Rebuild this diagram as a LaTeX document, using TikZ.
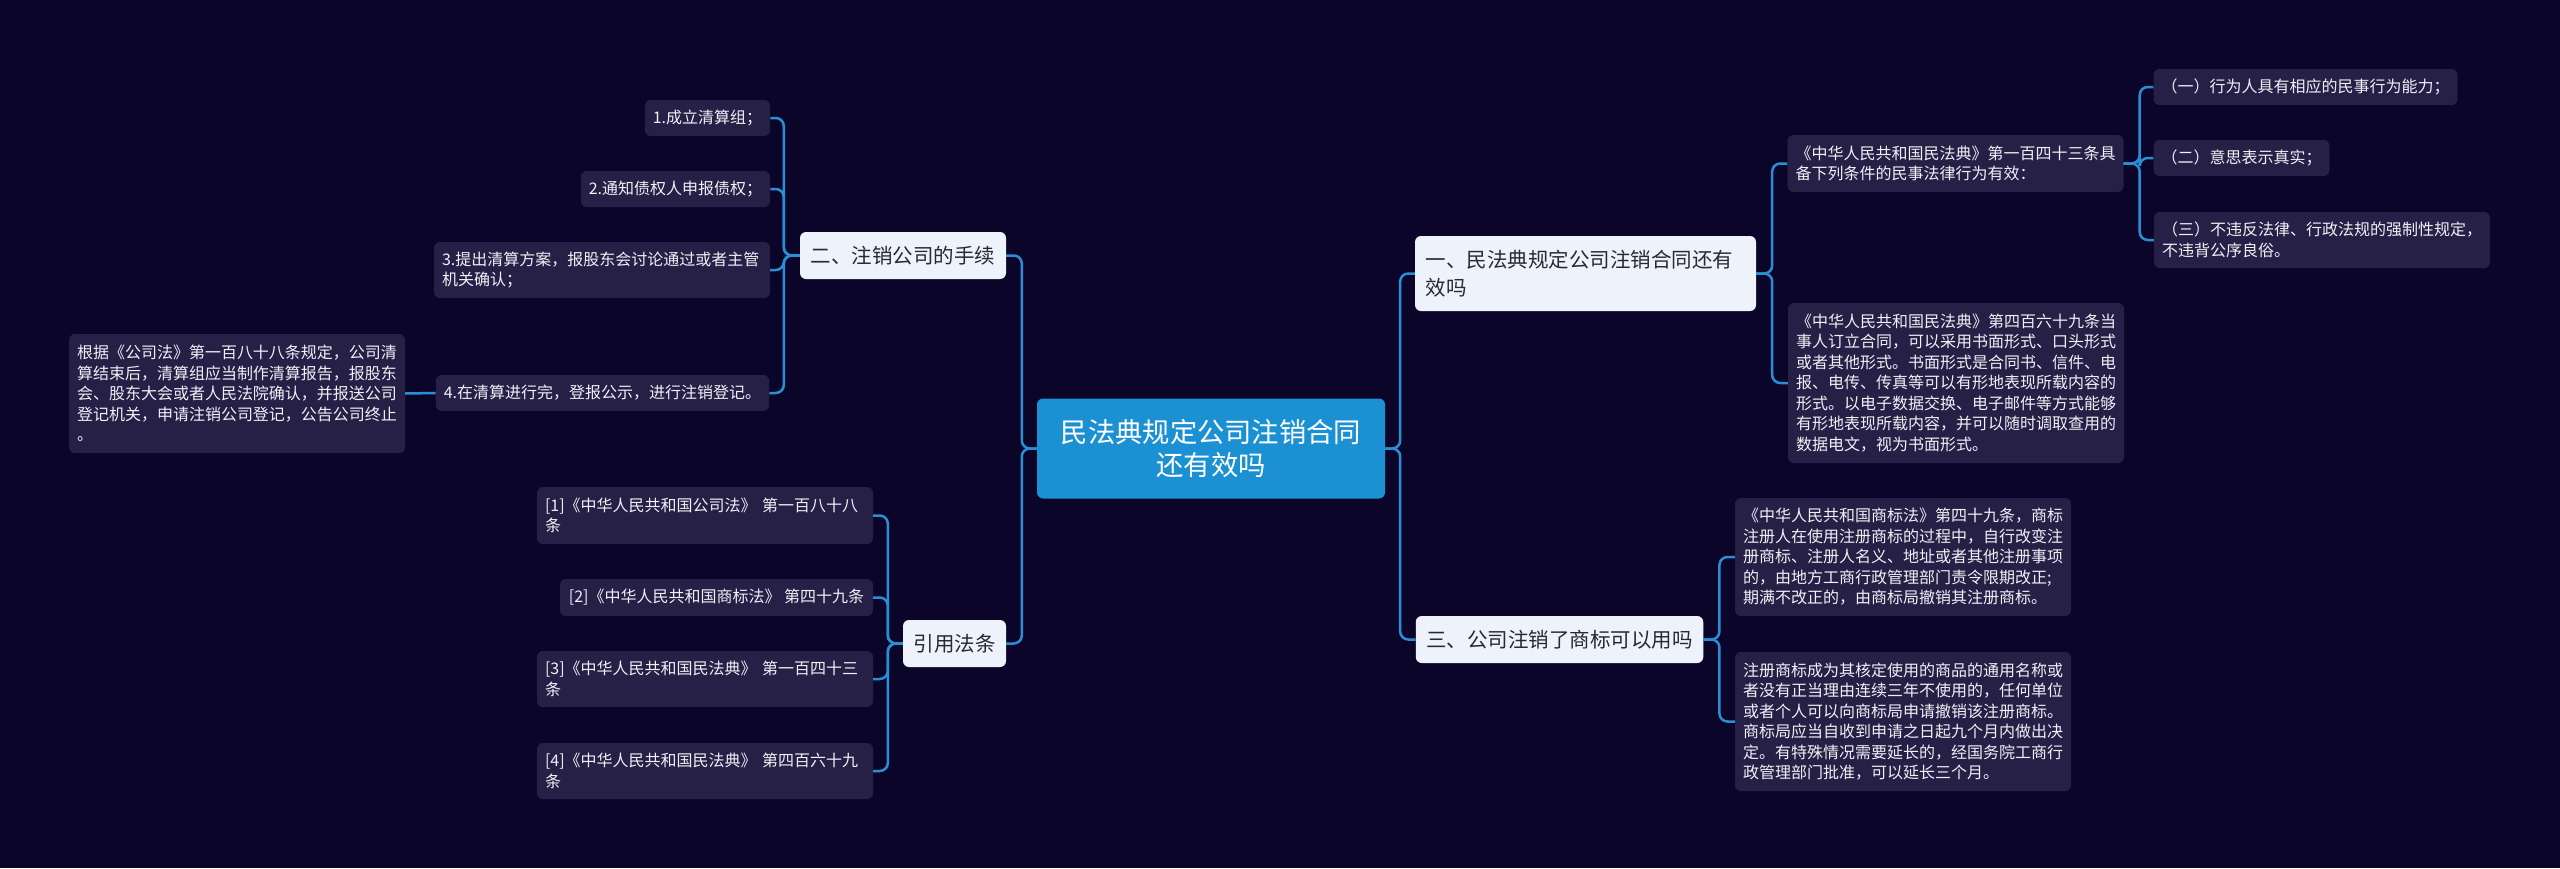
\documentclass[tikz,border=0pt]{standalone}
\usepackage{fontspec}
\setmainfont{Noto Sans CJK SC}
\definecolor{bgc}{RGB}{11,6,41}
\definecolor{cenc}{RGB}{27,145,212}
\definecolor{linec}{RGB}{42,142,214}
\definecolor{brc}{RGB}{238,243,251}
\definecolor{brtext}{RGB}{40,40,55}
\definecolor{leafc}{RGB}{38,32,70}
\definecolor{leaftext}{RGB}{240,240,246}
\tikzset{
  central/.style={fill=cenc, rounded corners=6, text=white, align=center,
    font=\fontsize{27.3}{33}\selectfont, inner sep=4, minimum width=348, minimum height=100},
  branch/.style={fill=brc, rounded corners=6, text=brtext, align=left,
    font=\fontsize{20.5}{28}\selectfont, inner xsep=10.5, inner ysep=4},
  leaf/.style={fill=leafc, rounded corners=6, text=leaftext, align=left,
    font=\fontsize{16}{20.5}\selectfont, inner xsep=8, inner ysep=4},
  wide/.style={text width=320},
  conn/.style={draw=linec, line width=2.5, rounded corners=8}
}
\begin{document}
\begin{tikzpicture}[x=1pt,y=-1pt]
\fill[bgc] (0,0) rectangle (2560,868);
\useasboundingbox (0,0) rectangle (2560,868);

% central
\node[central] (c) at (1211,448.5) {民法典规定公司注销合同\\还有效吗};

% branches
\node[branch, text width=320, minimum height=75] (b1) at (1585.5,273.5) {一、民法典规定公司注销合同还有\\效吗};
\node[branch, minimum width=287, minimum height=47] (b3) at (1559.5,639.5) {三、公司注销了商标可以用吗};
\node[branch, minimum width=206, minimum height=47] (b2) at (903,255.5) {二、注销公司的手续};
\node[branch, minimum width=103, minimum height=47] (b4) at (954.5,643.5) {引用法条};

% leaves of b1
\node[leaf, wide, minimum height=57] (l143) at (1955.5,163.5) {《中华人民共和国民法典》第一百四十三条具\\备下列条件的民事法律行为有效：};
\node[leaf, wide, minimum height=160] (l469) at (1956,383) {《中华人民共和国民法典》第四百六十九条当\\事人订立合同，可以采用书面形式、口头形式\\或者其他形式。书面形式是合同书、信件、电\\报、电传、传真等可以有形地表现所载内容的\\形式。以电子数据交换、电子邮件等方式能够\\有形地表现所载内容，并可以随时调取查用的\\数据电文，视为书面形式。};
\node[leaf, minimum width=303, minimum height=36] (k1) at (2305.5,87) {（一）行为人具有相应的民事行为能力；};
\node[leaf, minimum width=175, minimum height=36] (k2) at (2241.5,158) {（二）意思表示真实；};
\node[leaf, wide, minimum height=56] (k3) at (2322,240) {（三）不违反法律、行政法规的强制性规定，\\不违背公序良俗。};

% leaves of b3
\node[leaf, wide, minimum height=118] (t1) at (1903,557) {《中华人民共和国商标法》第四十九条，商标\\注册人在使用注册商标的过程中，自行改变注\\册商标、注册人名义、地址或者其他注册事项\\的，由地方工商行政管理部门责令限期改正;\\期满不改正的，由商标局撤销其注册商标。};
\node[leaf, wide, minimum height=139] (t2) at (1903,721.5) {注册商标成为其核定使用的商品的通用名称或\\者没有正当理由连续三年不使用的，任何单位\\或者个人可以向商标局申请撤销该注册商标。\\商标局应当自收到申请之日起九个月内做出决\\定。有特殊情况需要延长的，经国务院工商行\\政管理部门批准，可以延长三个月。};

% leaves of b2
\node[leaf, minimum width=125, minimum height=36] (s1) at (707.5,118) {1.成立清算组；};
\node[leaf, minimum width=189, minimum height=36] (s2) at (675.5,189) {2.通知债权人申报债权；};
\node[leaf, wide, minimum height=56] (s3) at (602,270) {3.提出清算方案，报股东会讨论通过或者主管\\机关确认；};
\node[leaf, minimum width=333, minimum height=36] (s4) at (602.5,393) {4.在清算进行完，登报公示，进行注销登记。};
\node[leaf, wide, minimum height=119] (gen) at (237,393.5) {根据《公司法》第一百八十八条规定，公司清\\算结束后，清算组应当制作清算报告，报股东\\会、股东大会或者人民法院确认，并报送公司\\登记机关，申请注销公司登记，公告公司终止\\。};

% leaves of b4
\node[leaf, wide, minimum height=57] (r1) at (705,515.5) {[1]《中华人民共和国公司法》 第一百八十八\\条};
\node[leaf, minimum width=313, minimum height=37] (r2) at (716.5,597.5) {[2]《中华人民共和国商标法》 第四十九条};
\node[leaf, wide, minimum height=56] (r3) at (705,679) {[3]《中华人民共和国民法典》 第一百四十三\\条};
\node[leaf, wide, minimum height=56] (r4) at (705,771) {[4]《中华人民共和国民法典》 第四百六十九\\条};

% connectors
\draw[conn] (c.east) -- ++(15,0) |- (b1.west);
\draw[conn] (c.east) -- ++(15,0) |- (b3.west);
\draw[conn] (c.west) -- ++(-15,0) |- (b2.east);
\draw[conn] (c.west) -- ++(-15,0) |- (b4.east);

\draw[conn] (b1.east) -- ++(16,0) |- (l143.west);
\draw[conn] (b1.east) -- ++(16,0) |- (l469.west);
\draw[conn] (l143.east) -- ++(16,0) |- (k1.west);
\draw[conn] (l143.east) -- ++(16,0) |- (k2.west);
\draw[conn] (l143.east) -- ++(16,0) |- (k3.west);

\draw[conn] (b3.east) -- ++(16,0) |- (t1.west);
\draw[conn] (b3.east) -- ++(16,0) |- (t2.west);

\draw[conn] (b2.west) -- ++(-16,0) |- (s1.east);
\draw[conn] (b2.west) -- ++(-16,0) |- (s2.east);
\draw[conn] (b2.west) -- ++(-16,0) |- (s3.east);
\draw[conn] (b2.west) -- ++(-16,0) |- (s4.east);
\draw[conn] (s4.west) -- (gen.east);

\draw[conn] (b4.west) -- ++(-15,0) |- (r1.east);
\draw[conn] (b4.west) -- ++(-15,0) |- (r2.east);
\draw[conn] (b4.west) -- ++(-15,0) |- (r3.east);
\draw[conn] (b4.west) -- ++(-15,0) |- (r4.east);
\end{tikzpicture}
\end{document}
